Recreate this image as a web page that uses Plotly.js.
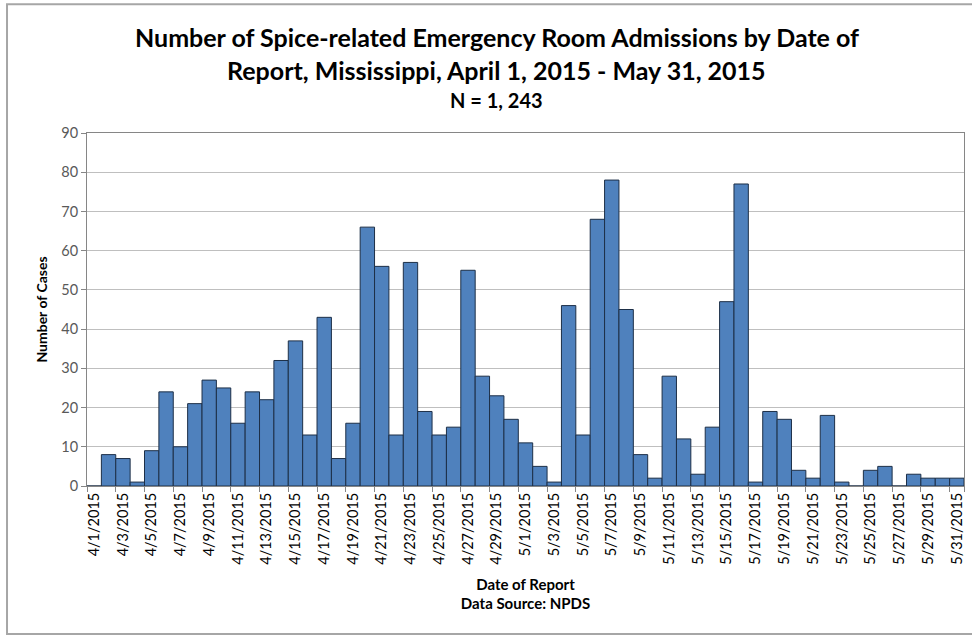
<!DOCTYPE html>
<html>
<head>
<meta charset="utf-8">
<script src="https://cdn.plot.ly/plotly-3.0.1.min.js"></script>
<style>html,body{margin:0;padding:0;background:#fff;}#chart{width:972px;height:636px;}</style>
</head>
<body>
<div id="chart"></div>
<script>
var dates = ["4/1/2015","4/2/2015","4/3/2015","4/4/2015","4/5/2015","4/6/2015","4/7/2015","4/8/2015","4/9/2015","4/10/2015",
"4/11/2015","4/12/2015","4/13/2015","4/14/2015","4/15/2015","4/16/2015","4/17/2015","4/18/2015","4/19/2015","4/20/2015",
"4/21/2015","4/22/2015","4/23/2015","4/24/2015","4/25/2015","4/26/2015","4/27/2015","4/28/2015","4/29/2015","4/30/2015",
"5/1/2015","5/2/2015","5/3/2015","5/4/2015","5/5/2015","5/6/2015","5/7/2015","5/8/2015","5/9/2015","5/10/2015",
"5/11/2015","5/12/2015","5/13/2015","5/14/2015","5/15/2015","5/16/2015","5/17/2015","5/18/2015","5/19/2015","5/20/2015",
"5/21/2015","5/22/2015","5/23/2015","5/24/2015","5/25/2015","5/26/2015","5/27/2015","5/28/2015","5/29/2015","5/30/2015","5/31/2015"];

var cases = [0,8,7,1,9,24,10,21,27,25,
16,24,22,32,37,13,43,7,16,66,
56,13,57,19,13,15,55,28,23,17,
11,5,1,46,13,68,78,45,8,2,
28,12,3,15,47,77,1,19,17,4,
2,18,1,0,4,5,0,3,2,2,2];

var tickLabels = ["4/1/2015","4/3/2015","4/5/2015","4/7/2015","4/9/2015","4/11/2015","4/13/2015","4/15/2015","4/17/2015","4/19/2015",
"4/21/2015","4/23/2015","4/25/2015","4/27/2015","4/29/2015","5/1/2015","5/3/2015","5/5/2015","5/7/2015","5/9/2015",
"5/11/2015","5/13/2015","5/15/2015","5/17/2015","5/19/2015","5/21/2015","5/23/2015","5/25/2015","5/27/2015","5/29/2015","5/31/2015"];

var yTicks = [0,10,20,30,40,50,60,70,80,90];

var titleLine1 = "Number of Spice-related Emergency Room Admissions by Date of";
var titleLine2 = "Report, Mississippi, April 1, 2015 - May 31, 2015";
var titleLine3 = "N = 1, 243";

var FONT = "Lato, 'Open Sans', sans-serif";

var trace = {
  type: "bar",
  x: dates,
  y: cases,
  marker: {color: "#4F81BD", line: {color: "#1d2f47", width: 1}},
  hoverinfo: "x+y"
};

var layout = {
  width: 972, height: 636,
  margin: {l: 87, r: 8, t: 133, b: 150},
  paper_bgcolor: "#ffffff",
  plot_bgcolor: "#ffffff",
  showlegend: false,
  bargap: 0,
  font: {family: FONT, color: "#000"},
  xaxis: {
    type: "category",
    tickmode: "array",
    tickvals: tickLabels,
    ticktext: tickLabels,
    tickangle: -90,
    tickson: "boundaries",
    ticks: "outside",
    ticklen: 5,
    tickcolor: "#868686",
    tickfont: {family: FONT, size: 14.5, color: "#000"},
    showgrid: false,
    showline: true,
    linecolor: "#868686",
    mirror: true,
    range: [-0.5, 60.5],
    title: {text: "<b>Date of Report</b><br><b>Data Source: NPDS</b>", font: {family: FONT, size: 15, color: "#000"}, standoff: 15}
  },
  yaxis: {
    range: [0, 90],
    tickmode: "array",
    tickvals: yTicks,
    ticks: "outside",
    ticklen: 5,
    tickcolor: "#868686",
    tickfont: {family: FONT, size: 14.5, color: "#595959"},
    showgrid: true,
    gridcolor: "#BFBFBF",
    gridwidth: 1,
    zeroline: false,
    showline: true,
    linecolor: "#868686",
    mirror: true,
    title: {text: "<b>Number of Cases</b>", font: {family: FONT, size: 14, color: "#000"}, standoff: 10}
  },
  annotations: [
    {text: "<b>" + titleLine1 + "</b>", xref: "paper", yref: "paper", x: 0.467, y: 1.272, xanchor: "center", yanchor: "middle", showarrow: false, font: {family: FONT, size: 25, color: "#000"}},
    {text: "<b>" + titleLine2 + "</b>", xref: "paper", yref: "paper", x: 0.467, y: 1.178, xanchor: "center", yanchor: "middle", showarrow: false, font: {family: FONT, size: 25, color: "#000"}},
    {text: "<b>" + titleLine3 + "</b>", xref: "paper", yref: "paper", x: 0.467, y: 1.093, xanchor: "center", yanchor: "middle", showarrow: false, font: {family: FONT, size: 20, color: "#000"}}
  ],
  shapes: [
    {type: "rect", xref: "paper", yref: "paper", x0: -0.0912, x1: 1.02, y0: -0.419, y1: 1.365, line: {color: "#A6A6A6", width: 2}, fillcolor: "rgba(0,0,0,0)", layer: "below"}
  ]
};

Plotly.newPlot("chart", [trace], layout, {displayModeBar: false, staticPlot: true});
</script>
</body>
</html>
